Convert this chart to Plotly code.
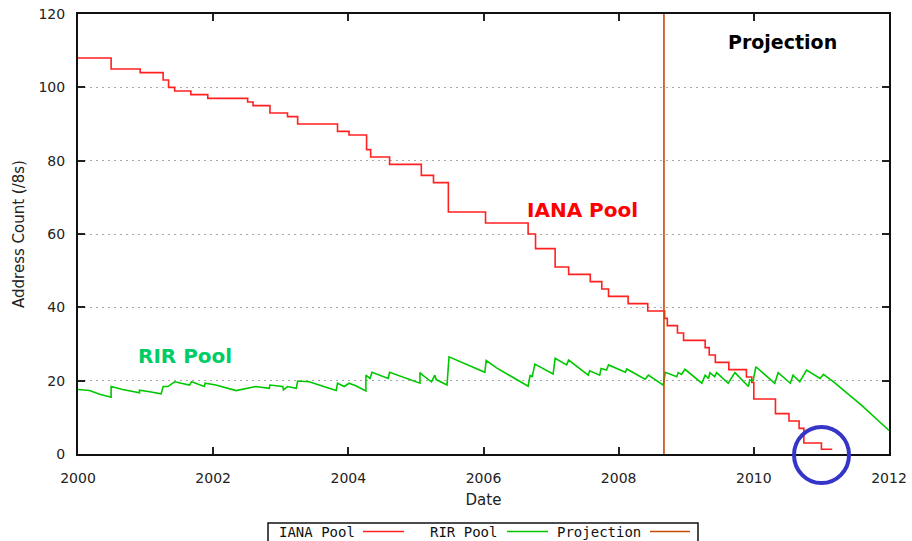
import plotly.graph_objects as go

# ---- data ----
# IANA pool: step changes (start date of each level, level in /8s)
iana_dates = [2000.00, 2000.49, 2000.92, 2001.26, 2001.34, 2001.43, 2001.67, 2001.92,
              2002.51, 2002.59, 2002.84, 2003.10, 2003.25, 2003.84, 2004.01, 2004.27,
              2004.33, 2004.61, 2005.08, 2005.26, 2005.48, 2006.03, 2006.66, 2006.77,
              2007.06, 2007.26, 2007.58, 2007.75, 2007.85, 2008.14, 2008.43, 2008.68,
              2008.72, 2008.87, 2008.96, 2009.28, 2009.34, 2009.43, 2009.63, 2009.89,
              2009.97, 2010.00, 2010.32, 2010.52, 2010.67, 2010.74, 2011.00, 2011.16]
iana_values = [108, 105, 104, 102, 100, 99, 98, 97,
               96, 95, 93, 92, 90, 88, 87, 83,
               81, 79, 76, 74, 66, 63, 60, 56,
               51, 49, 47, 45, 43, 41, 39, 37,
               35, 33, 31, 29, 27, 25, 23, 21,
               19.5, 15, 11, 9, 7, 3, 1.3, 1.3]

# RIR pool (history + projected decline)
rir_dates = [2000.00, 2000.17, 2000.32, 2000.49, 2000.49, 2000.66, 2000.91, 2000.91, 2001.06,
             2001.23, 2001.26, 2001.33, 2001.43, 2001.65, 2001.68, 2001.87, 2001.88, 2002.04,
             2002.34, 2002.51, 2002.63, 2002.83, 2002.84, 2003.03, 2003.04, 2003.10, 2003.23,
             2003.25, 2003.42, 2003.67, 2003.82, 2003.84, 2003.94, 2004.01, 2004.11, 2004.26,
             2004.26, 2004.32, 2004.35, 2004.59, 2004.61, 2005.06, 2005.06, 2005.10, 2005.23,
             2005.28, 2005.30, 2005.46, 2005.49, 2006.02, 2006.04, 2006.20, 2006.66, 2006.69,
             2006.72, 2006.76, 2007.03, 2007.06, 2007.23, 2007.26, 2007.55, 2007.57, 2007.72,
             2007.74, 2007.82, 2007.85, 2008.10, 2008.12, 2008.39, 2008.44, 2008.66, 2008.69,
             2008.86, 2008.88, 2008.93, 2008.98, 2009.23, 2009.28, 2009.33, 2009.35, 2009.42,
             2009.45, 2009.62, 2009.72, 2009.92, 2009.94, 2009.99, 2010.03, 2010.31, 2010.36,
             2010.54, 2010.58, 2010.68, 2010.78, 2010.98, 2011.03, 2011.18, 2011.60, 2012.00]
rir_values = [17.6, 17.3, 16.3, 15.5, 18.4, 17.6, 16.7, 17.4, 17.0,
              16.4, 18.4, 18.4, 19.7, 18.8, 19.7, 18.4, 19.3, 18.8,
              17.3, 17.9, 18.4, 17.9, 18.8, 18.4, 17.5, 18.4, 17.9,
              19.9, 19.7, 18.2, 17.3, 19.3, 18.4, 19.3, 18.6, 17.2,
              21.5, 20.6, 22.3, 20.6, 22.3, 19.3, 22.2, 21.5, 19.7,
              21.5, 20.3, 18.8, 26.5, 22.3, 25.5, 23.4, 18.5, 21.5,
              21.0, 24.5, 21.8, 26.1, 24.3, 25.6, 21.5, 22.7, 21.5,
              23.3, 22.9, 24.3, 22.3, 23.2, 20.4, 21.5, 18.8, 22.3,
              21.1, 22.2, 21.7, 23.1, 19.3, 21.5, 20.6, 22.2, 21.1,
              22.2, 19.3, 22.2, 18.4, 20.2, 20.0, 23.8, 19.3, 22.2,
              19.3, 21.5, 19.7, 22.9, 20.6, 21.7, 19.7, 13.2, 6.4]

# Projection start marker
projection_date = [2008.67, 2008.67]
projection_span = [0, 120]

x_ticks = [2000, 2002, 2004, 2006, 2008, 2010, 2012]
y_ticks = [0, 20, 40, 60, 80, 100, 120]
series_names = ["IANA Pool", "RIR Pool", "Projection"]

RED = "#ff2020"
GREEN = "#00c800"
ORANGE = "#c84a00"

fig = go.Figure()
fig.add_trace(go.Scatter(x=iana_dates, y=iana_values, mode="lines", line_shape="hv",
                         line=dict(color=RED, width=1.6), name=series_names[0], showlegend=False))
fig.add_trace(go.Scatter(x=rir_dates, y=rir_values, mode="lines",
                         line=dict(color=GREEN, width=1.6), name=series_names[1], showlegend=False))
fig.add_trace(go.Scatter(x=projection_date, y=projection_span, mode="lines",
                         line=dict(color=ORANGE, width=1.6), name=series_names[2], showlegend=False))

axis_font = dict(family="DejaVu Sans", size=14, color="#222222")
title_font = dict(family="DejaVu Sans", size=15, color="#222222")

fig.update_layout(
    width=912, height=541,
    margin=dict(l=78, r=23, t=14, b=87),
    paper_bgcolor="white", plot_bgcolor="white",
    showlegend=False,
    xaxis=dict(range=[2000, 2012], tickvals=x_ticks, ticktext=[str(v) for v in x_ticks],
               ticks="inside", ticklen=7, tickwidth=1.5, tickcolor="#222222",
               showline=True, linecolor="#111111", linewidth=2, mirror="ticks",
               showgrid=False, zeroline=False, tickfont=axis_font, ticklabelstandoff=10,
               ticklabeloverflow="allow",
               title=dict(text="Date", font=title_font, standoff=10), automargin=False),
    yaxis=dict(range=[0, 120], tickvals=y_ticks, ticktext=[str(v) for v in y_ticks],
               ticks="inside", ticklen=7, tickwidth=1.5, tickcolor="#222222",
               showline=True, linecolor="#111111", linewidth=2, mirror="ticks",
               showgrid=True, gridcolor="#a8a8a8", gridwidth=1, griddash="2px,4px",
               zeroline=False, tickfont=axis_font, ticklabelstandoff=8,
               ticklabeloverflow="allow",
               title=dict(text="Address Count (/8s)", font=title_font, standoff=10),
               automargin=False),
)

# Text labels inside the plot
fig.add_annotation(x=2010.42, y=112.4, text="<b>Projection</b>", showarrow=False,
                   font=dict(family="DejaVu Sans", size=19, color="black"))
fig.add_annotation(x=2007.46, y=66.5, text="<b>IANA Pool</b>", showarrow=False,
                   font=dict(family="DejaVu Sans", size=20, color="#ff0000"))
fig.add_annotation(x=2001.58, y=26.7, text="<b>RIR Pool</b>", showarrow=False,
                   font=dict(family="DejaVu Sans", size=20, color="#00cc66"))

# Blue highlight circle (paper coords so it is not clipped)
fig.add_shape(type="circle", xref="paper", yref="paper", x0=0.8829, x1=0.9507,
              y0=-0.0659, y1=0.0614, line=dict(color="#3535c8", width=4))

# gnuplot-style legend box at the bottom (text then line sample)
fig.add_shape(type="rect", xref="paper", yref="paper", x0=0.2343, x1=0.7645,
              y0=-0.215, y1=-0.1568, line=dict(color="#111111", width=1.5),
              fillcolor="white", layer="above")
legend_font = dict(family="DejaVu Sans Mono", size=14, color="#111111")
legend_text_x = [0.2454, 0.4316, 0.5882]
legend_sample_x = [(0.3514, 0.4020), (0.5290, 0.5795), (0.7053, 0.7546)]
legend_colors = [RED, GREEN, ORANGE]
for name, tx, (sx0, sx1), col in zip(series_names, legend_text_x, legend_sample_x, legend_colors):
    fig.add_annotation(xref="paper", yref="paper", x=tx, y=-0.1765, text=name,
                       showarrow=False, xanchor="left", yanchor="middle", font=legend_font)
    fig.add_shape(type="line", xref="paper", yref="paper", x0=sx0, x1=sx1,
                  y0=-0.1761, y1=-0.1761, line=dict(color=col, width=1.6))

# place the figure flush with the window's top-left corner
fig.write_html("out.html", config={"displayModeBar": False},
               post_script="document.body.style.margin='0';document.body.style.overflow='hidden';")
